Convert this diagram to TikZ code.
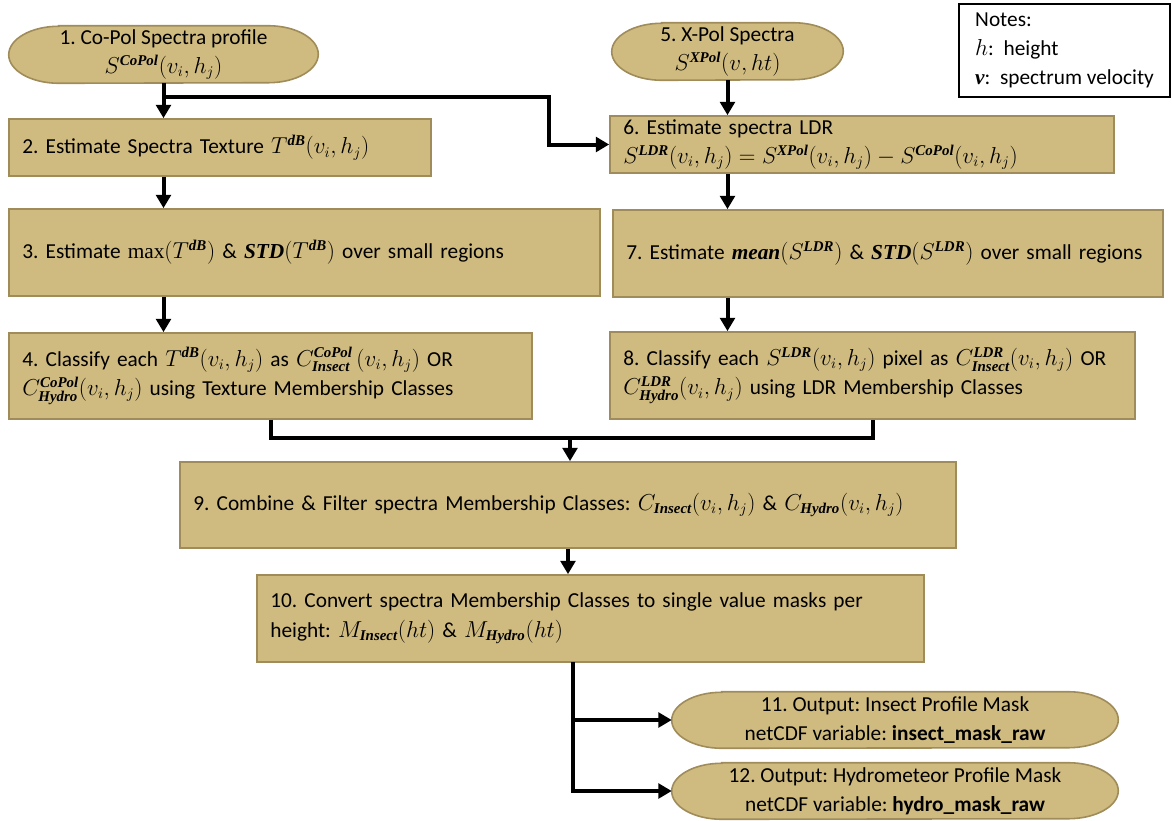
\documentclass[tikz,border=0pt]{standalone}
\usepackage{amsmath}
\usepackage{fontspec}
\setmainfont{Carlito}
\newfontfamily\mbfont{Liberation Serif}
\usetikzlibrary{arrows.meta,calc}
\pgfdeclarelayer{bg}
\pgfsetlayers{bg,main}
\definecolor{boxfill}{RGB}{207,186,127}
\definecolor{boxline}{RGB}{160,140,90}
\frenchspacing
\newcommand\bmi[1]{\text{\mbfont\bfseries\itshape #1}}
\newcommand\rmop[1]{\text{\mbfont #1}}
\newcommand\ovalbg[2]{\path[ovalshape] ([xshift=37.5pt]#1.north west) -- ([xshift=-37.5pt]#1.north east) arc[start angle=90,end angle=-90,x radius=37.5pt,y radius=#2] -- ([xshift=37.5pt]#1.south west) arc[start angle=270,end angle=90,x radius=37.5pt,y radius=#2] -- cycle;}
\tikzset{
  conn/.style={line width=3pt, draw=black},
  arr/.style={conn, -{Triangle[length=10pt,width=11pt]}},
  stepbox/.style={draw=boxline, fill=boxfill, line width=1.2pt, inner xsep=10pt, inner ysep=2pt, align=left, font=\fontsize{16}{22}\selectfont},
  ovaltext/.style={draw=none, inner sep=0pt, align=center, font=\fontsize{16}{22}\selectfont},
  ovalshape/.style={draw=boxline, fill=boxfill, line width=1.2pt},
  notebox/.style={draw=black, fill=white, line width=1.5pt, align=left, font=\fontsize{16}{22}\selectfont}
}
\begin{document}
\begin{tikzpicture}[x=0.75pt,y=-0.75pt]
\useasboundingbox (0,0) rectangle (1172,821);

% ovals (text nodes)
\node[ovaltext, minimum width=231.75pt, minimum height=42.75pt] (O1) at (163.5,54.5) {1. Co-Pol Spectra profile\\ $S^{\bmi{CoPol}}(v_i,h_j)$};
\node[ovaltext, minimum width=173.25pt, minimum height=42.75pt] (O5) at (727.5,51.5) {5. X-Pol Spectra\\ $S^{\bmi{XPol}}(v,ht)$};
\node[ovaltext, minimum width=334.5pt, minimum height=42pt] (O11) at (895,720) {11. Output: Insect Profile Mask\\ netCDF variable: \textbf{insect\_mask\_raw}};
\node[ovaltext, minimum width=334.5pt, minimum height=42pt] (O12) at (895,791) {12. Output: Hydrometeor Profile Mask\\ netCDF variable: \textbf{hydro\_mask\_raw}};

\begin{pgfonlayer}{bg}
\ovalbg{O1}{21.375pt}
\ovalbg{O5}{21.375pt}
\ovalbg{O11}{21pt}
\ovalbg{O12}{21pt}
\end{pgfonlayer}

% notes
\node[notebox, minimum width=158.25pt, minimum height=69.75pt] (N) at (1064.5,50.5) {Notes:\\ $h$:~ height\\ $\bmi{v}$:~ spectrum velocity};

% boxes
\node[stepbox, text width=296.5pt, minimum height=42.75pt] (B2) at (220,147.5) {2. Estimate Spectra Texture $T^{\bmi{dB}}(v_i,h_j)$};
\node[stepbox, text width=423.25pt, minimum height=65.25pt] (B3) at (304.5,252.5) {\mbox{3. Estimate $\rmop{max}(T^{\bmi{dB}})$ \& $\bmi{STD}(T^{\bmi{dB}})$ over small regions}};
\node[stepbox, text width=372.25pt, minimum height=64.5pt] (B4) at (270.5,376) {\mbox{4. Classify each $T^{\bmi{dB}}(v_i,h_j)$ as $C^{\bmi{CoPol}}_{\bmi{Insect}}\,(v_i,h_j)$ OR}\\ \mbox{$C^{\bmi{CoPol}}_{\bmi{Hydro}}(v_i,h_j)$ using Texture Membership Classes}};
\node[stepbox, text width=358pt, minimum height=42.75pt] (B6) at (862,144.5) {6. Estimate spectra LDR\\ \mbox{$S^{\bmi{LDR}}(v_i,h_j)=S^{\bmi{XPol}}(v_i,h_j)-S^{\bmi{CoPol}}(v_i,h_j)$}};
\node[stepbox, text width=392.5pt, minimum height=65.25pt] (B7) at (888,253.5) {\mbox{7. Estimate $\bmi{mean}(S^{\bmi{LDR}})$ \& $\bmi{STD}(S^{\bmi{LDR}})$ over small regions}};
\node[stepbox, text width=373.75pt, minimum height=65.25pt] (B8) at (872.5,375.5) {\mbox{8. Classify each $S^{\bmi{LDR}}(v_i,h_j)$ pixel as $C^{\bmi{LDR}}_{\bmi{Insect}}(v_i,h_j)$ OR}\\ \mbox{$C^{\bmi{LDR}}_{\bmi{Hydro}}(v_i,h_j)$ using LDR Membership Classes}};
\node[stepbox, text width=562pt, minimum height=64.5pt] (B9) at (568,505) {\mbox{9. Combine \& Filter spectra Membership Classes: $C_{\bmi{Insect}}(v_i,h_j)$ \& $C_{\bmi{Hydro}}(v_i,h_j)$}};
\node[stepbox, text width=480.25pt, minimum height=65.25pt] (B10) at (590.5,618.5) {\mbox{10. Convert spectra Membership Classes to single value masks per}\\ \mbox{height: $M_{\bmi{Insect}}(ht)$ \& $M_{\bmi{Hydro}}(ht)$}};

% connectors
\coordinate (j1) at (163.5,97);
\coordinate (k1) at (549,97);
\draw[arr] (O1.south) -- (O1.south |- B2.north);
\draw[arr] (j1) -- (k1) |- (B6.west);
\draw[arr] (B2.south -| O1.south) -- (B3.north -| O1.south);
\draw[arr] (B3.south -| O1.south) -- (B4.north -| O1.south);
\draw[arr] (O5.south) -- (O5.south |- B6.north);
\draw[arr] (B6.south -| O5.south) -- (B7.north -| O5.south);
\draw[arr] (B7.south -| O5.south) -- (B8.north -| O5.south);
\coordinate (m) at (570,438);
\draw[conn] (B4.south) |- (m) -| (B8.south);
\draw[arr] (m) -- (m |- B9.north);
\draw[arr] (B9.south) -- (B9.south |- B10.north);
\coordinate (t) at (573,662);
\draw[arr] (t) |- (O11.west);
\draw[arr] (t) |- (O12.west);
\end{tikzpicture}
\end{document}
